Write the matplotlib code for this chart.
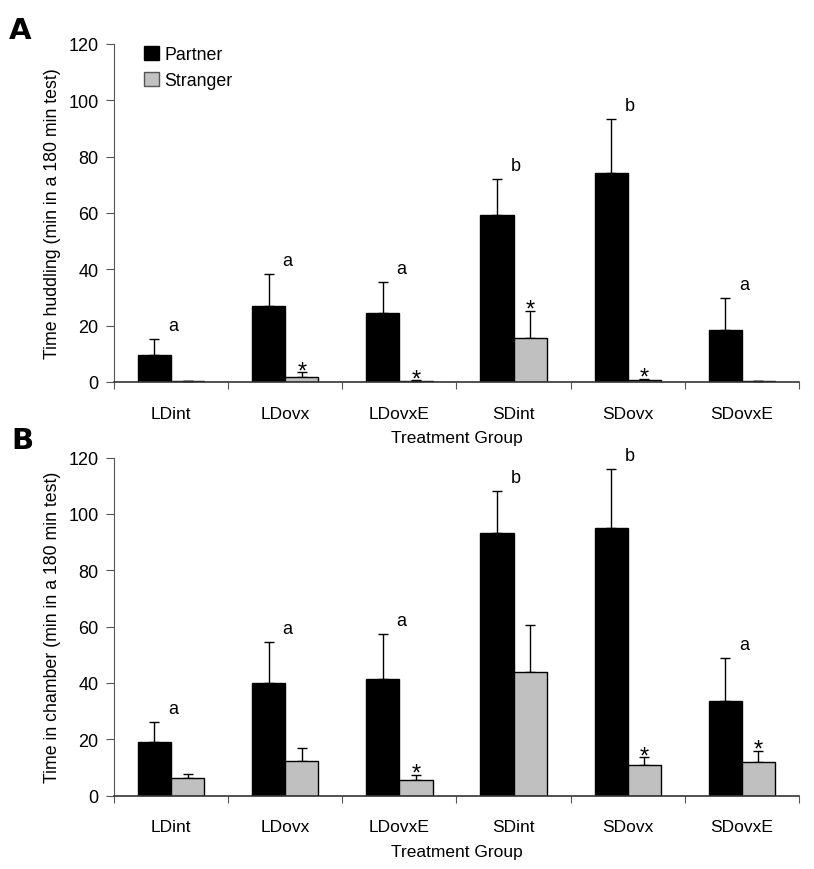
import matplotlib
matplotlib.use("Agg")
import matplotlib.pyplot as plt
from matplotlib.patches import Patch
import numpy as np

plt.rcParams['font.family'] = ['Liberation Sans', 'DejaVu Sans']

groups = ["LDint", "LDovx", "LDovxE", "SDint", "SDovx", "SDovxE"]

# Panel A: time huddling
huddle_partner = [9.6, 27.0, 24.4, 59.4, 74.1, 18.3]
huddle_partner_err = [5.8, 11.2, 11.2, 12.8, 19.1, 11.5]
huddle_stranger = [0.3, 1.9, 0.3, 15.7, 0.6, 0.3]
huddle_stranger_err = [0.1, 1.5, 0.3, 9.6, 0.6, 0.1]
huddle_letters = ["a", "a", "a", "b", "b", "a"]
huddle_stars = [False, True, True, True, True, False]

# Panel B: time in chamber
chamber_partner = [18.9, 39.9, 41.5, 93.1, 95.1, 33.6]
chamber_partner_err = [7.4, 14.7, 15.9, 15.2, 20.9, 15.4]
chamber_stranger = [6.2, 12.2, 5.5, 44.0, 10.8, 11.8]
chamber_stranger_err = [1.6, 4.8, 2.0, 16.6, 2.9, 4.2]
chamber_letters = ["a", "a", "a", "b", "b", "a"]
chamber_stars = [False, False, True, False, True, True]

GRAY = "#c0c0c0"
FS = 12.5

fig = plt.figure(figsize=(8.14, 8.70), dpi=100)
axA = fig.add_axes([0.140, 0.5598, 0.8416, 0.3885])
axB = fig.add_axes([0.140, 0.0843, 0.8416, 0.3885])


def draw(ax, partner, perr, stranger, serr, letters, stars, ylabel):
    n = len(groups)
    centers = np.arange(n) + 0.5
    w = 0.29
    xp = centers - w / 2
    xs = centers + w / 2
    ax.bar(xp, partner, width=w, color="black", edgecolor="black", linewidth=1, zorder=2)
    ax.bar(xs, stranger, width=w, color=GRAY, edgecolor="black", linewidth=1, zorder=2)
    ax.errorbar(xp, partner, yerr=[np.zeros(n), perr], fmt="none", ecolor="black",
                elinewidth=1, capsize=3.8, capthick=1, zorder=1)
    ax.errorbar(xs, stranger, yerr=[np.zeros(n), serr], fmt="none", ecolor="black",
                elinewidth=1, capsize=3.8, capthick=1, zorder=1)
    for i in range(n):
        top = partner[i] + perr[i]
        ax.text(centers[i] + 0.02, top + 3.2, letters[i], ha="center", va="baseline",
                fontsize=FS + 0.5)
        if stars[i]:
            stop = stranger[i] + serr[i]
            ax.text(xs[i], stop - 1.8, "*", ha="center", va="baseline", fontsize=17)
    ax.set_xlim(0, n)
    ax.set_ylim(0, 120)
    ax.set_yticks(np.arange(0, 121, 20))
    ax.set_xticks(np.arange(0, n + 1))
    ax.set_xticklabels([])
    ax.set_xticks(centers, minor=True)
    ax.set_xticklabels(groups, minor=True, fontsize=FS)
    ax.tick_params(axis="x", which="minor", length=0, pad=17)
    ax.tick_params(axis="x", which="major", direction="out", length=5, width=0.8, color="#555555")
    ax.tick_params(axis="y", direction="out", length=6, width=0.8, labelsize=FS + 0.5, pad=5,
                   color="#555555")
    for s in ["top", "right"]:
        ax.spines[s].set_visible(False)
    ax.spines["left"].set_color("#555555")
    ax.spines["bottom"].set_color("#333333")
    ax.spines["bottom"].set_linewidth(1.2)
    ax.set_xlabel("Treatment Group", fontsize=FS, labelpad=7)
    ax.set_ylabel(ylabel, fontsize=FS + 0.3, labelpad=5)


draw(axA, huddle_partner, huddle_partner_err, huddle_stranger, huddle_stranger_err,
     huddle_letters, huddle_stars, "Time huddling (min in a 180 min test)")
draw(axB, chamber_partner, chamber_partner_err, chamber_stranger, chamber_stranger_err,
     chamber_letters, chamber_stars, "Time in chamber (min in a 180 min test)")

handles = [Patch(facecolor="black", edgecolor="black", label="Partner"),
           Patch(facecolor=GRAY, edgecolor="#555555", label="Stranger")]
axA.legend(handles=handles, loc="upper left", bbox_to_anchor=(0.033, 1.015), frameon=False,
           fontsize=FS + 0.3, handlelength=0.85, handleheight=0.85, handletextpad=0.3,
           labelspacing=0.5, borderaxespad=0)

fig.text(0.011, 0.948, "A", fontsize=21, fontweight="heavy", family="DejaVu Sans",
         va="bottom", ha="left")
fig.text(0.014, 0.477, "B", fontsize=21, fontweight="heavy", family="DejaVu Sans",
         va="bottom", ha="left")

fig.savefig("out.png", dpi=100)
